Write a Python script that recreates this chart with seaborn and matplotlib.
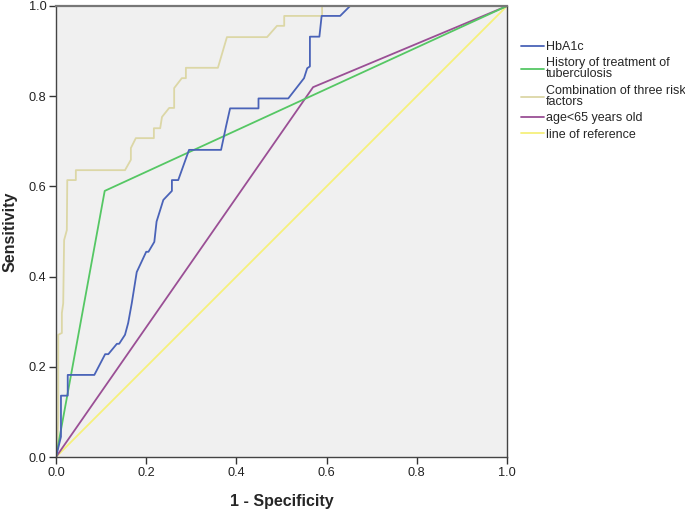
import matplotlib
matplotlib.use("Agg")
import matplotlib.pyplot as plt
import seaborn as sns
import pandas as pd

# ---- data ----
hba1c_x = [0, 0.011, 0.011, 0.026, 0.026, 0.085, 0.109, 0.116, 0.135, 0.140, 0.153, 0.160, 0.168, 0.179,
           0.200, 0.205, 0.218, 0.223, 0.238, 0.257, 0.257, 0.271, 0.295, 0.366, 0.377, 0.386, 0.449, 0.449,
           0.515, 0.550, 0.557, 0.563, 0.563, 0.584, 0.589, 0.630, 0.652, 1.0]
hba1c_y = [0, 0.045, 0.136, 0.136, 0.182, 0.182, 0.228, 0.228, 0.251, 0.251, 0.271, 0.297, 0.341, 0.410,
           0.455, 0.455, 0.477, 0.522, 0.570, 0.590, 0.614, 0.614, 0.681, 0.681, 0.733, 0.773, 0.773, 0.795,
           0.795, 0.840, 0.862, 0.866, 0.932, 0.932, 0.978, 0.978, 1.0, 1.0]

tb_x = [0, 0.108, 1.0]
tb_y = [0, 0.590, 1.0]

combo_x = [0, 0.003, 0.005, 0.005, 0.013, 0.013, 0.016, 0.018, 0.024, 0.025, 0.044, 0.044, 0.153, 0.166,
           0.166, 0.177, 0.217, 0.217, 0.231, 0.235, 0.251, 0.262, 0.262, 0.279, 0.288, 0.288, 0.359, 0.379,
           0.468, 0.490, 0.506, 0.506, 0.590, 0.590, 1.0]
combo_y = [0, 0.02, 0.089, 0.271, 0.275, 0.319, 0.341, 0.481, 0.503, 0.614, 0.614, 0.636, 0.636, 0.659,
           0.685, 0.707, 0.707, 0.729, 0.729, 0.754, 0.774, 0.774, 0.818, 0.840, 0.840, 0.863, 0.863, 0.931,
           0.931, 0.956, 0.956, 0.978, 0.978, 1.0, 1.0]

age_x = [0, 0.570, 1.0]
age_y = [0, 0.820, 1.0]

ref_x = [0, 1.0]
ref_y = [0, 1.0]

series_names = ["HbA1c", "History of treatment of\ntuberculosis", "Combination of three risk\nfactors",
                "age<65 years old", "line of reference"]
colors = ["#4a63b8", "#55c764", "#dcd7a6", "#9a4f95", "#f6f07c"]

sns.set_theme(style="white")
plt.rcParams['font.family'] = ['Liberation Sans', 'DejaVu Sans']

fig = plt.figure(figsize=(6.85, 5.13), dpi=100)
ax = fig.add_axes([56/685, 56/513, 451/685, 451/513])
ax.set_facecolor("#f0f0f0")

all_x = [hba1c_x, tb_x, combo_x, age_x, ref_x]
all_y = [hba1c_y, tb_y, combo_y, age_y, ref_y]
for i in [4, 3, 2, 1, 0]:
    sns.lineplot(x=all_x[i], y=all_y[i], sort=False, estimator=None, color=colors[i],
                 lw=1.3, ax=ax, label=series_names[i])

ax.set_xlim(0, 1)
ax.set_ylim(0, 1)
ticks = [0.0, 0.2, 0.4, 0.6, 0.8, 1.0]
ax.set_xticks(ticks)
ax.set_yticks(ticks)
ax.set_xticklabels([f"{t:.1f}" for t in ticks])
ax.set_yticklabels([f"{t:.1f}" for t in ticks])
ax.tick_params(axis="both", which="major", direction="out", length=5, width=1, color="#333333",
               labelsize=9.2, labelcolor="#222222", bottom=True, left=True, pad=2)
for s in ax.spines.values():
    s.set_color("#444444")
    s.set_linewidth(1.0)
ax.spines["top"].set_linewidth(1.6)
ax.spines["top"].set_color("#777777")

ax.set_xlabel("1 - Specificity", fontsize=11.5, fontweight="bold", labelpad=11)
ax.set_ylabel("Sensitivity", fontsize=11.5, fontweight="bold", labelpad=8)

handles, labels = ax.get_legend_handles_labels()
order = [labels.index(n) for n in series_names]
leg = ax.legend([handles[k] for k in order], [labels[k] for k in order],
                loc="upper left", bbox_to_anchor=(521/685, 1 - 41/513), bbox_transform=fig.transFigure,
                frameon=False, fontsize=9, handlelength=1.85, handletextpad=0.15, labelspacing=0.35,
                borderaxespad=0, borderpad=0)
for t in leg.get_texts():
    t.set_linespacing(0.9)

fig.savefig("out.png", dpi=100)
